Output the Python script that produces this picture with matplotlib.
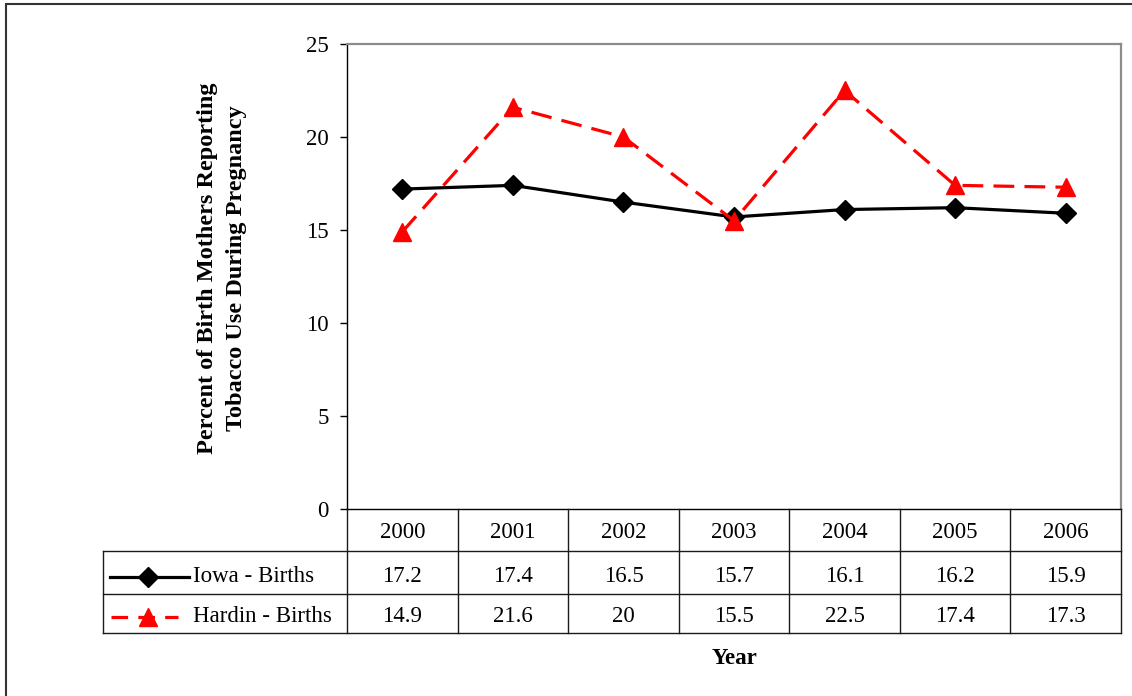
import matplotlib
matplotlib.use("Agg")
import matplotlib.pyplot as plt
from matplotlib.lines import Line2D
from matplotlib.patches import Rectangle
import matplotlib.transforms as mtransforms

years = ["2000", "2001", "2002", "2003", "2004", "2005", "2006"]
iowa = [17.2, 17.4, 16.5, 15.7, 16.1, 16.2, 15.9]
hardin = [14.9, 21.6, 20, 15.5, 22.5, 17.4, 17.3]
iowa_labels = ["17.2", "17.4", "16.5", "15.7", "16.1", "16.2", "15.9"]
hardin_labels = ["14.9", "21.6", "20", "15.5", "22.5", "17.4", "17.3"]
series_names = ["Iowa - Births", "Hardin - Births"]
y_ticks = [0, 5, 10, 15, 20, 25]

plt.rcParams['font.family'] = ['Liberation Serif', 'DejaVu Serif']
FS = 16.5

W, H = 1132, 696
fig = plt.figure(figsize=(W / 100, H / 100), dpi=100)

def fx(px):
    return px / W

def fy(py):
    return 1 - py / H

# plot area
left_px, right_px, top_px, bot_px = 347, 1121, 44, 509
ax = fig.add_axes([fx(left_px), fy(bot_px), fx(right_px) - fx(left_px), fy(top_px) - fy(bot_px)])
n = len(years)
xs = list(range(n))
ax.set_xlim(-0.5, n - 0.5)
ax.set_ylim(0, 25)
ax.set_yticks(y_ticks)
ax.set_yticklabels([str(t) for t in y_ticks])
ax.set_xticks([])
ax.tick_params(axis='y', direction='out', length=5, width=1, pad=8, labelsize=FS, colors='black')
for s in ['top', 'right']:
    ax.spines[s].set_color('#8c8c8c')
    ax.spines[s].set_linewidth(1.6)
ax.spines['left'].set_color('black')
ax.spines['left'].set_linewidth(1)
ax.spines['bottom'].set_color('black')
ax.spines['bottom'].set_linewidth(1)

dash = (6.5, 3.2)
ax.plot(xs, iowa, color='black', lw=2.3, marker='D', markersize=10.5, zorder=3, clip_on=False)
ax.plot(xs, hardin, color='#ff0000', lw=2.3, dashes=dash, marker='^', markersize=13,
        zorder=4, clip_on=False)

fig.text(fx(222), fy(268), "Percent of Birth Mothers Reporting\nTobacco Use During Pregnancy",
         rotation=90, ha='center', va='center', fontsize=17.5, fontweight='bold',
         linespacing=1.55, multialignment='center')

# data table
blend = mtransforms.blended_transform_factory(ax.transData, fig.transFigure)
row_lines = [551, 594, 633]
lc = '#1a1a1a'
lw_t = 1.0
for i in range(n + 1):
    xb = i - 0.5
    fig.add_artist(Line2D([xb, xb], [fy(bot_px), fy(633)], transform=blend, color=lc, lw=lw_t))
for ry in row_lines:
    fig.add_artist(Line2D([fx(103), fx(right_px)], [fy(ry), fy(ry)], transform=fig.transFigure,
                          color=lc, lw=lw_t))
fig.add_artist(Line2D([fx(103), fx(103)], [fy(551), fy(633)], transform=fig.transFigure,
                      color=lc, lw=lw_t))

row_centers = [533, 576, 616]
for i in range(n):
    fig.text(i, fy(row_centers[0]), years[i], transform=blend, ha='center', va='center', fontsize=FS)
    fig.text(i, fy(row_centers[1]), iowa_labels[i], transform=blend, ha='center', va='center', fontsize=FS)
    fig.text(i, fy(row_centers[2]), hardin_labels[i], transform=blend, ha='center', va='center', fontsize=FS)

# legend keys in table
fig.add_artist(Line2D([fx(110), fx(189)], [fy(577), fy(577)], transform=fig.transFigure,
                      color='black', lw=2.3))
fig.add_artist(Line2D([fx(148)], [fy(577)], transform=fig.transFigure, color='black',
                      marker='D', markersize=10.5, lw=0))
fig.add_artist(Line2D([fx(111), fx(178)], [fy(617), fy(617)], transform=fig.transFigure,
                      color='#ff0000', lw=2.3, dashes=(5.2, 3.2)))
fig.add_artist(Line2D([fx(148)], [fy(617)], transform=fig.transFigure, color='#ff0000',
                      marker='^', markersize=13, lw=0))
fig.text(fx(193), fy(row_centers[1]), series_names[0], ha='left', va='center', fontsize=FS)
fig.text(fx(193), fy(row_centers[2]), series_names[1], ha='left', va='center', fontsize=FS)

fig.text(fx(735), fy(658), "Year", ha='center', va='center', fontsize=FS, fontweight='bold')

# outer frame
fig.add_artist(Rectangle((fx(6), fy(H + 20)), fx(W + 40), fy(4) - fy(H + 20), transform=fig.transFigure,
                         fill=False, edgecolor='#333333', lw=1.5, clip_on=False))

fig.savefig("out.png", dpi=100, facecolor='white')
